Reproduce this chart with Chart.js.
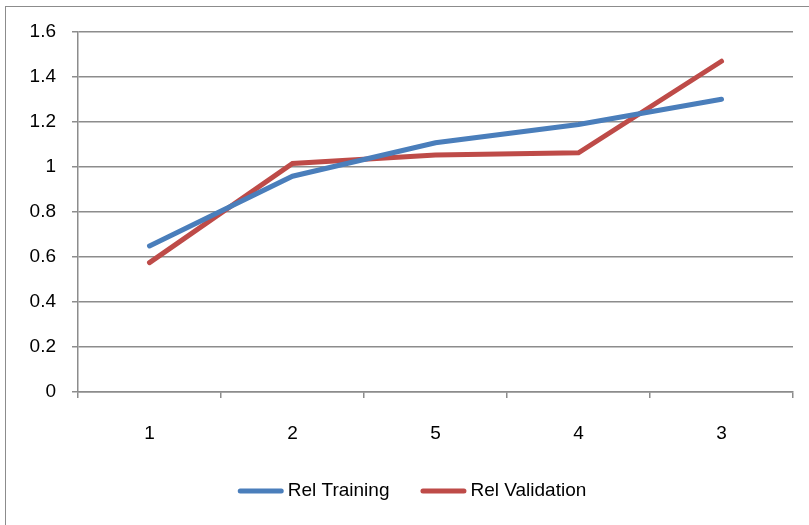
<!DOCTYPE html>
<html>
<head>
<meta charset="utf-8">
<script src="https://cdn.jsdelivr.net/npm/chart.js@4/dist/chart.umd.min.js"></script>
<style>
  html, body { margin: 0; padding: 0; background: #ffffff; }
  #wrap { position: relative; width: 809px; height: 525px; overflow: hidden; }
  #frame {
    position: absolute; left: 5px; top: 6px; width: 900px; height: 600px;
    border-left: 1.5px solid #8c8c8c; border-top: 1.5px solid #8c8c8c;
    pointer-events: none; box-sizing: border-box;
  }
  canvas { position: absolute; left: 0; top: 0; }
</style>
</head>
<body>
<div id="wrap">
  <canvas id="chart" width="809" height="525"></canvas>
  <div id="frame"></div>
</div>
<script>
// Category order along the x axis
const categories = ['1', '2', '5', '4', '3'];

// Series values
const relTraining   = [0.649, 0.959, 1.108, 1.189, 1.301];
const relValidation = [0.575, 1.016, 1.053, 1.063, 1.470];

// Value-axis tick labels (0 to 1.6 in steps of 0.2)
const yTickLabels = ['0', '0.2', '0.4', '0.6', '0.8', '1', '1.2', '1.4', '1.6'];

const FONT = 'Liberation Sans, Arial, sans-serif';
const GRID = '#8c8c8c';

// Legend drawn as a short thick line followed by the series name
const lineLegend = {
  id: 'lineLegend',
  afterDraw(chart) {
    const ctx = chart.ctx;
    const sample = 46, gap = 4, itemGap = 31, cy = 491;
    ctx.save();
    ctx.font = '19px ' + FONT;
    const items = chart.data.datasets.map(ds => ({
      text: ds.label, color: ds.borderColor, w: ctx.measureText(ds.label).width
    }));
    let total = 0;
    items.forEach((it, i) => { total += sample + gap + it.w + (i ? itemGap : 0); });
    let x = 412 - total / 2;
    items.forEach((it, i) => {
      if (i) x += itemGap;
      ctx.strokeStyle = it.color;
      ctx.lineWidth = 5;
      ctx.lineCap = 'round';
      ctx.beginPath();
      ctx.moveTo(x + 2.5, cy);
      ctx.lineTo(x + sample - 2.5, cy);
      ctx.stroke();
      x += sample + gap;
      ctx.fillStyle = '#000000';
      ctx.textBaseline = 'middle';
      ctx.textAlign = 'left';
      ctx.fillText(it.text, x, cy);
      x += it.w;
    });
    ctx.restore();
  }
};

new Chart(document.getElementById('chart'), {
  type: 'line',
  data: {
    labels: categories,
    datasets: [
      {
        label: 'Rel Training',
        data: relTraining,
        borderColor: '#4A7EBB',
        backgroundColor: '#4A7EBB',
        borderWidth: 5,
        borderCapStyle: 'round',
        pointRadius: 0,
        tension: 0
      },
      {
        label: 'Rel Validation',
        data: relValidation,
        borderColor: '#BE4B48',
        backgroundColor: '#BE4B48',
        borderWidth: 5,
        borderCapStyle: 'round',
        pointRadius: 0,
        tension: 0
      }
    ]
  },
  options: {
    responsive: false,
    animation: false,
    layout: { padding: { top: 32, right: 16, bottom: 60, left: 0 } },
    plugins: {
      legend: { display: false },
      tooltip: { enabled: false }
    },
    scales: {
      x: {
        offset: true,
        grid: {
          offset: true,
          drawOnChartArea: false,
          drawTicks: true,
          tickLength: 6,
          color: GRID,
          lineWidth: 1.5
        },
        border: { display: true, color: GRID, width: 1.5 },
        ticks: {
          color: '#000000',
          font: { family: FONT, size: 19 },
          padding: 24,
          maxRotation: 0
        },
        afterFit(scale) { scale.height = 73; }
      },
      y: {
        min: 0,
        max: 1.6,
        grid: {
          color: GRID,
          lineWidth: 1.5,
          drawTicks: true,
          tickLength: 6
        },
        border: { display: true, color: GRID, width: 1.5 },
        ticks: {
          stepSize: 0.2,
          color: '#000000',
          font: { family: FONT, size: 19 },
          padding: 16,
          callback: v => yTickLabels[Math.round(v / 0.2)]
        },
        afterFit(scale) { scale.width = 78; }
      }
    }
  },
  plugins: [lineLegend]
});
</script>
</body>
</html>
